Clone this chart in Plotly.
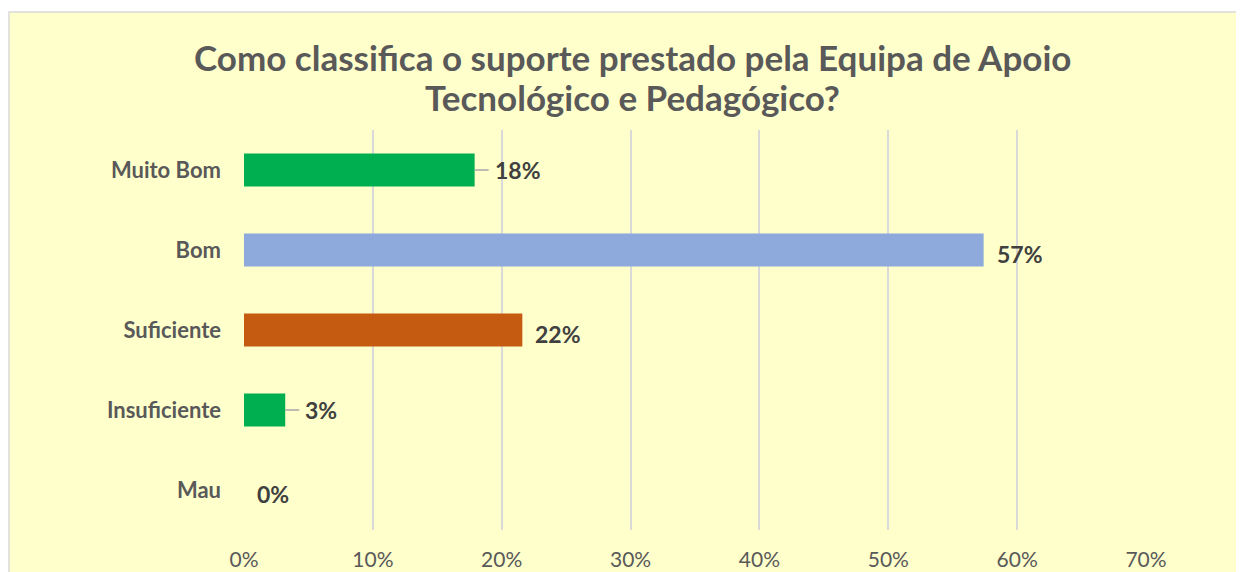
import plotly.graph_objects as go

categories = ["Muito Bom", "Bom", "Suficiente", "Insuficiente", "Mau"]
shares = [0.179, 0.574, 0.216, 0.032, 0.0]
bar_colors = ["#00B050", "#8EA9DB", "#C55A11", "#00B050", "#00B050"]
has_leader = [True, False, False, True, False]
title_lines = ["Como classifica o suporte prestado pela Equipa de Apoio",
               "Tecnológico e Pedagógico?"]

# the page body adds an 8px margin, so the figure starts at (8, 8)
W, H = 1236, 564
ml, mr, mt, mb = 236, 98, 122, 42
pw, ph = W - ml - mr, H - mt - mb

fig = go.Figure()

fig.add_trace(go.Bar(
    x=shares, y=categories, orientation="h",
    marker=dict(color=bar_colors, line=dict(width=0)),
    hoverinfo="skip",
))

# outer chart area (light yellow box with grey border)
fig.add_shape(type="rect", xref="paper", yref="paper", layer="below",
              x0=(1 - ml) / pw, x1=(W + 40 - ml) / pw,
              y0=-(mb + 40) / ph, y1=(H - mb - 4) / ph,
              fillcolor="#FFFFCC", line=dict(color="#D9D9D9", width=1.5))

# two-line title
for i, line in enumerate(title_lines):
    fig.add_annotation(text=f"<b>{line}</b>", showarrow=False,
                       xref="paper", yref="paper",
                       x=(624 - ml) / pw, xanchor="center",
                       y=(H - mb - (49 + 40 * i)) / ph, yanchor="middle",
                       font=dict(family="Lato", size=35, color="#595959"))

# data labels + leader lines
for cat, v, lead in zip(categories, shares, has_leader):
    fig.add_annotation(x=v, y=cat, text=f"<b>{v:.0%}</b>", showarrow=False,
                       xanchor="left", yanchor="middle",
                       xshift=18 if lead else 11, yshift=0 if lead else -4,
                       font=dict(family="Lato", size=23, color="#404040"))
    if lead:
        fig.add_shape(type="line", xref="x", yref="y", xsizemode="pixel",
                      xanchor=v, x0=0, x1=14, y0=cat, y1=cat,
                      line=dict(color="#A6A6A6", width=1.5))

fig.update_layout(
    width=W, height=H,
    margin=dict(l=ml, r=mr, t=mt, b=mb, pad=0, autoexpand=False),
    paper_bgcolor="white",
    plot_bgcolor="rgba(0,0,0,0)",
    bargap=0.59,
    showlegend=False,
    font=dict(family="Lato", color="#595959"),
    xaxis=dict(
        range=[0, 0.7], dtick=0.1, tickformat=".0%",
        showgrid=True, gridcolor="#D9D9D9", gridwidth=1.5,
        zeroline=False, showline=False, automargin=False,
        tickfont=dict(family="Lato", size=21, color="#595959"),
        ticklabelstandoff=15,
    ),
    yaxis=dict(
        categoryorder="array", categoryarray=categories,
        autorange="reversed", automargin=False,
        showgrid=False, zeroline=False, showline=False,
        tickfont=dict(family="Lato", size=22, color="#595959"),
        ticklabelstandoff=22,
        tickprefix="<b>", ticksuffix="</b>",
    ),
)

# no scrollbars: the page is exactly as big as the window
fig.write_html("out.html", post_script="document.documentElement.style.overflow='hidden';")
